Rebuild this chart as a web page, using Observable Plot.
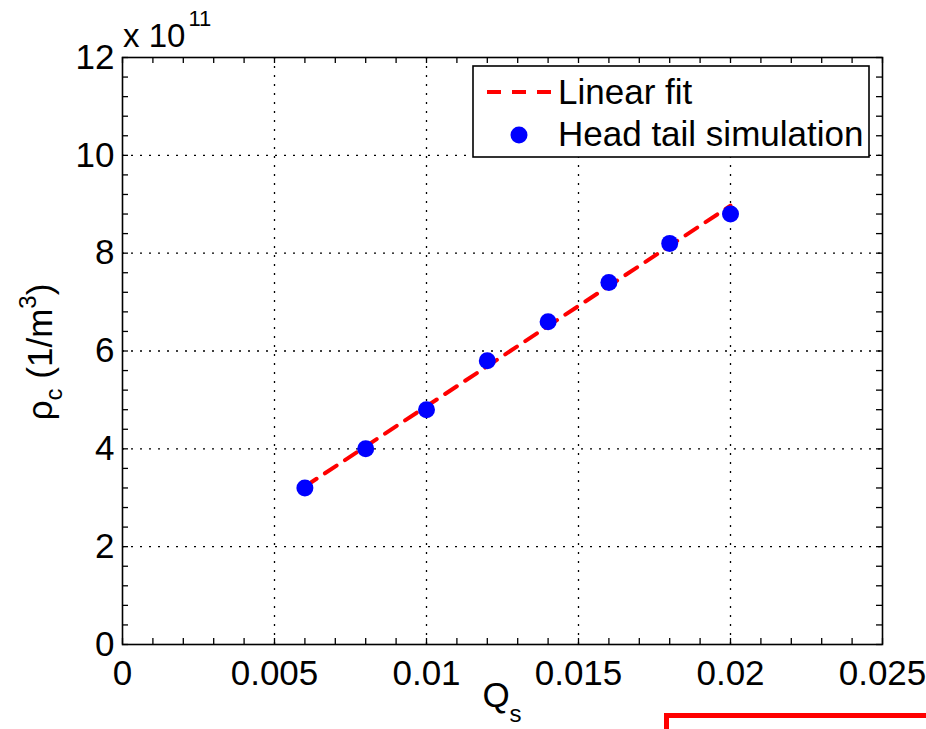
<!DOCTYPE html>
<html>
<head>
<meta charset="utf-8">
<script src="https://cdn.jsdelivr.net/npm/d3@7"></script>
<script src="https://cdn.jsdelivr.net/npm/@observablehq/plot@0.6"></script>
<style>
  html, body { margin: 0; padding: 0; background: #fff; }
  #wrap { position: relative; width: 926px; height: 729px; overflow: hidden; }
  #redbox { position: absolute; left: 664px; top: 713px; width: 300px; height: 40px;
            border: 5px solid #ff0000; box-sizing: border-box; background: #fff; }
</style>
</head>
<body>
<div id="wrap"></div>
<script>
// ---- data ----
const qs = [0.006, 0.008, 0.010, 0.012, 0.014, 0.016, 0.018, 0.020];
const rho = [3.2, 4.0, 4.8, 5.8, 6.6, 7.4, 8.2, 8.8];          // × 10^11 1/m^3
const fitQs = [0.006, 0.020];
const fitRho = [3.23, 8.97];
const xTicks = [0, 0.005, 0.01, 0.015, 0.02, 0.025];
const xTickLabels = ["0", "0.005", "0.01", "0.015", "0.02", "0.025"];
const yTicks = [0, 2, 4, 6, 8, 10, 12];
const yTickLabels = ["0", "2", "4", "6", "8", "10", "12"];
const xMinor = d3.range(0, 26).map(i => i / 1000);
const yMinor = d3.range(0, 31).map(i => +(i * 0.4).toFixed(1));
const legendLabels = ["Linear fit", "Head tail simulation"];

const points = qs.map((q, i) => ({q, r: rho[i]}));
const fit = fitQs.map((q, i) => ({q, r: fitRho[i]}));

const W = 926, H = 729;
const M = {left: 122, right: 44, top: 57, bottom: 85};
const pw = W - M.left - M.right, ph = H - M.top - M.bottom;
const FONT = "'Liberation Sans', Arial, Helvetica, sans-serif";
const FS = 35;
const TL = 6;

const chart = Plot.plot({
  width: W, height: H,
  marginLeft: M.left, marginRight: M.right, marginTop: M.top, marginBottom: M.bottom,
  style: {fontFamily: FONT, fontSize: FS + "px", color: "black", background: "white", overflow: "visible"},
  x: {domain: [0, 0.025], label: null},
  y: {domain: [0, 12], label: null},
  marks: [
    Plot.gridX(xTicks.slice(1, -1), {stroke: "black", strokeOpacity: 1, strokeWidth: 1.3, strokeDasharray: "2,7"}),
    Plot.gridY(yTicks.slice(1, -1), {stroke: "black", strokeOpacity: 1, strokeWidth: 1.3, strokeDasharray: "2,7"}),
    // inward ticks on all four sides
    Plot.ruleX(xMinor, {x: d => d, insetTop: ph - TL, stroke: "black", strokeWidth: 1.3}),
    Plot.ruleX(xMinor, {x: d => d, insetBottom: ph - TL, stroke: "black", strokeWidth: 1.3}),
    Plot.ruleY(yMinor, {y: d => d, insetRight: pw - TL, stroke: "black", strokeWidth: 1.3}),
    Plot.ruleY(yMinor, {y: d => d, insetLeft: pw - TL, stroke: "black", strokeWidth: 1.3}),
    Plot.axisX(xTicks, {tickSize: 0, tickPadding: 16, tickFormat: (d, i) => xTickLabels[i], fontSize: FS, label: null}),
    Plot.axisY(yTicks, {tickSize: 0, tickPadding: 8, tickFormat: (d, i) => yTickLabels[i], fontSize: FS, label: null}),
    Plot.line(fit, {x: "q", y: "r", stroke: "#ff0000", strokeWidth: 4, strokeDasharray: "14,10"}),
    Plot.dot(points, {x: "q", y: "r", r: 8.5, fill: "#0000ff", stroke: "none"}),
    Plot.frame({stroke: "black", strokeWidth: 1.6})
  ]
});

const svg = d3.select(chart);
// exponent label
const ex = svg.append("text").attr("x", 123).attr("y", 47).attr("text-anchor", "start")
  .attr("font-family", FONT).attr("font-size", 33).attr("fill", "black");
ex.append("tspan").text("x 10");
ex.append("tspan").attr("font-size", 22).attr("dy", -21).attr("dx", 3).text("11");

// x label Q_s
const xl = svg.append("text").attr("x", M.left + pw / 2).attr("y", 707)
  .attr("text-anchor", "middle").attr("font-family", FONT).attr("font-size", FS).attr("fill", "black");
xl.append("tspan").text("Q");
xl.append("tspan").attr("font-size", 24).attr("dy", 15).text("s");

// y label rho_c (1/m^3)
const yl = svg.append("text").attr("transform", "translate(52,352) rotate(-90)")
  .attr("text-anchor", "middle").attr("font-family", FONT).attr("font-size", FS).attr("fill", "black");
yl.append("tspan").text("\u03c1");
yl.append("tspan").attr("font-size", 24).attr("dy", 10).text("c");
yl.append("tspan").attr("dy", -10).text(" (1/m");
yl.append("tspan").attr("font-size", 24).attr("dy", -16).text("3");
yl.append("tspan").attr("dy", 16).text(")");

// legend
const lg = svg.append("g").attr("text-anchor", "start");
lg.append("rect").attr("x", 473).attr("y", 66).attr("width", 396).attr("height", 91)
  .attr("fill", "white").attr("stroke", "black").attr("stroke-width", 1.6);
lg.append("line").attr("x1", 487).attr("x2", 552).attr("y1", 92).attr("y2", 92)
  .attr("stroke", "#ff0000").attr("stroke-width", 4).attr("stroke-dasharray", "14,11");
lg.append("circle").attr("cx", 519).attr("cy", 135).attr("r", 8.5).attr("fill", "#0000ff");
lg.append("text").attr("x", 558).attr("y", 104).attr("font-family", FONT).attr("font-size", 35)
  .attr("fill", "black").text(legendLabels[0]);
lg.append("text").attr("x", 558).attr("y", 146).attr("font-family", FONT).attr("font-size", 35)
  .attr("fill", "black").text(legendLabels[1]);

const wrap = document.getElementById("wrap");
wrap.appendChild(chart);
const rb = document.createElement("div");
rb.id = "redbox";
wrap.appendChild(rb);
</script>
</body>
</html>
